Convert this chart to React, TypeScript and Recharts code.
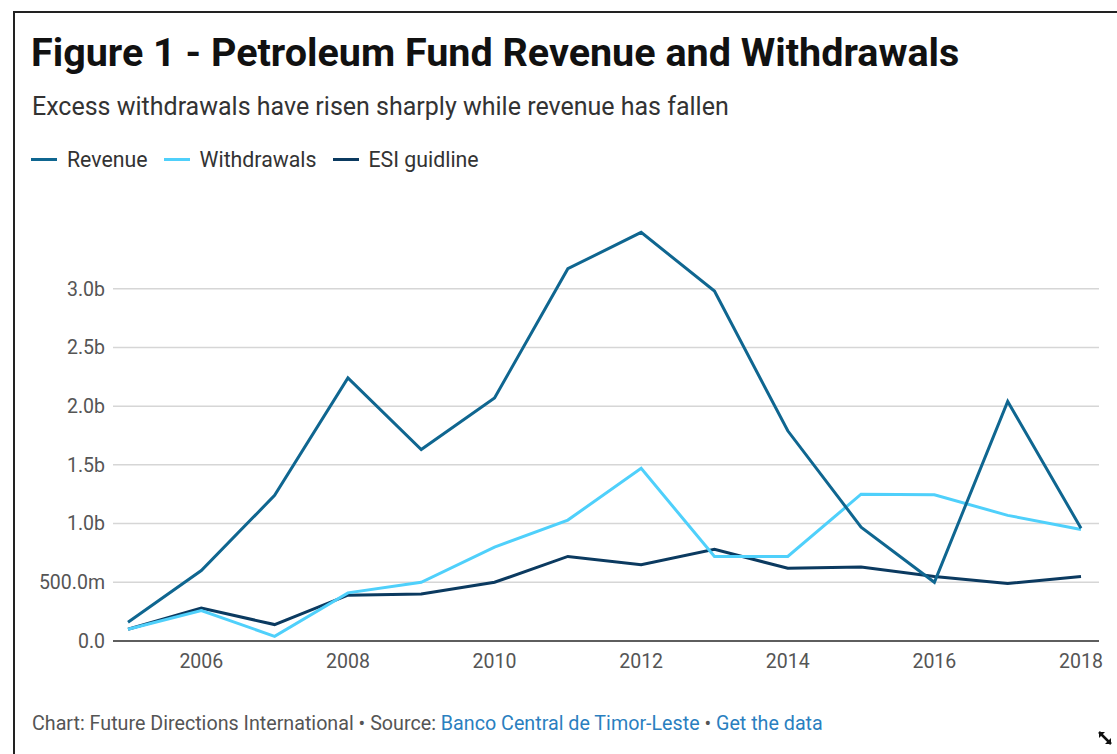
import React from "react";
import { LineChart, Line, XAxis, YAxis, CartesianGrid } from "recharts";

const years = [2005, 2006, 2007, 2008, 2009, 2010, 2011, 2012, 2013, 2014, 2015, 2016, 2017, 2018];
const revenue = [0.16, 0.6, 1.24, 2.24, 1.63, 2.07, 3.17, 3.48, 2.98, 1.79, 0.97, 0.5, 2.04, 0.96];
const withdrawals = [0.1, 0.26, 0.04, 0.41, 0.5, 0.8, 1.03, 1.47, 0.72, 0.72, 1.25, 1.245, 1.07, 0.95];
const esi = [0.1, 0.28, 0.14, 0.39, 0.4, 0.5, 0.72, 0.65, 0.78, 0.62, 0.63, 0.55, 0.49, 0.55];
const xTicks = [2006, 2008, 2010, 2012, 2014, 2016, 2018];
const yTicks = [0, 0.5, 1, 1.5, 2, 2.5, 3];

const COLORS = { revenue: "#0f6690", withdrawals: "#4fd0fb", esi: "#0b3a60" };

const data = years.map((y, i) => ({ year: y, revenue: revenue[i], withdrawals: withdrawals[i], esi: esi[i] }));

const fmtY = (v: number) => (v === 0 ? "0.0" : v < 1 ? `${(v * 1000).toFixed(1)}m` : `${v.toFixed(1)}b`);

const FONT = "Roboto, 'Noto Sans', sans-serif";

const legendItems = [
  { label: "Revenue", color: COLORS.revenue },
  { label: "Withdrawals", color: COLORS.withdrawals },
  { label: "ESI guidline", color: COLORS.esi },
];

export default function App() {
  return (
    <div style={{ position: "absolute", left: 0, top: 0, width: 1117, height: 754, overflow: "hidden", background: "#fff", fontFamily: FONT }}>
      <div style={{ position: "absolute", left: 13, top: 11, width: 1200, height: 900, borderLeft: "2px solid #222", borderTop: "2px solid #222" }} />
      <div style={{ position: "absolute", left: 31, top: 29, fontSize: 39.5, fontWeight: 700, color: "#111", whiteSpace: "nowrap" }}>
        Figure 1 - Petroleum Fund Revenue and Withdrawals
      </div>
      <div style={{ position: "absolute", left: 32, top: 92, fontSize: 25, color: "#333", whiteSpace: "nowrap" }}>
        Excess withdrawals have risen sharply while revenue has fallen
      </div>
      <div style={{ position: "absolute", left: 31, top: 147, display: "flex", alignItems: "center", fontSize: 21.3, color: "#333", whiteSpace: "nowrap" }}>
        {legendItems.map((it) => (
          <div key={it.label} style={{ display: "flex", alignItems: "center", marginRight: 16 }}>
            <div style={{ width: 26, height: 3, background: it.color, marginRight: 10 }} />
            <span>{it.label}</span>
          </div>
        ))}
      </div>
      <div style={{ position: "absolute", left: 0, top: 0 }}>
        <LineChart width={1117} height={690} data={data} margin={{ top: 230, right: 18, bottom: 19, left: 0 }}>
          <CartesianGrid horizontal vertical={false} horizontalValues={yTicks} stroke="#d6d6d6" strokeWidth={1.5} />
          <XAxis
            dataKey="year"
            type="number"
            domain={[2005, 2018]}
            ticks={xTicks}
            padding={{ left: 15, right: 18 }}
            tickLine={false}
            axisLine={{ stroke: "#333", strokeWidth: 1.5 }}
            tick={{ fill: "#555", fontSize: 19.5, fontFamily: FONT }}
            tickMargin={7}
            height={30}
            interval={0}
          />
          <YAxis
            type="number"
            domain={[0, 3.5]}
            ticks={yTicks}
            width={113}
            tickLine={false}
            axisLine={false}
            tickFormatter={fmtY}
            tick={{ fill: "#555", fontSize: 19.5, fontFamily: FONT }}
            interval={0}
          />
          <Line type="linear" dataKey="esi" stroke={COLORS.esi} strokeWidth={3} dot={false} isAnimationActive={false} />
          <Line type="linear" dataKey="withdrawals" stroke={COLORS.withdrawals} strokeWidth={3} dot={false} isAnimationActive={false} />
          <Line type="linear" dataKey="revenue" stroke={COLORS.revenue} strokeWidth={3} dot={false} isAnimationActive={false} />
        </LineChart>
      </div>
      <div style={{ position: "absolute", left: 32, top: 712, fontSize: 19.7, color: "#555", whiteSpace: "nowrap" }}>
        Chart: Future Directions International • Source: <span style={{ color: "#2a7fbf" }}>Banco Central de Timor-Leste</span> • <span style={{ color: "#2a7fbf" }}>Get the data</span>
      </div>
      <svg style={{ position: "absolute", left: 1097, top: 730 }} width={16} height={16} viewBox="0 0 16 16">
        <path d="M2 2 L14 14" stroke="#111" strokeWidth={2.5} />
        <path d="M2 2 L8 2 L2 8 Z" fill="#111" />
        <path d="M14 14 L8 14 L14 8 Z" fill="#111" />
      </svg>
    </div>
  );
}
